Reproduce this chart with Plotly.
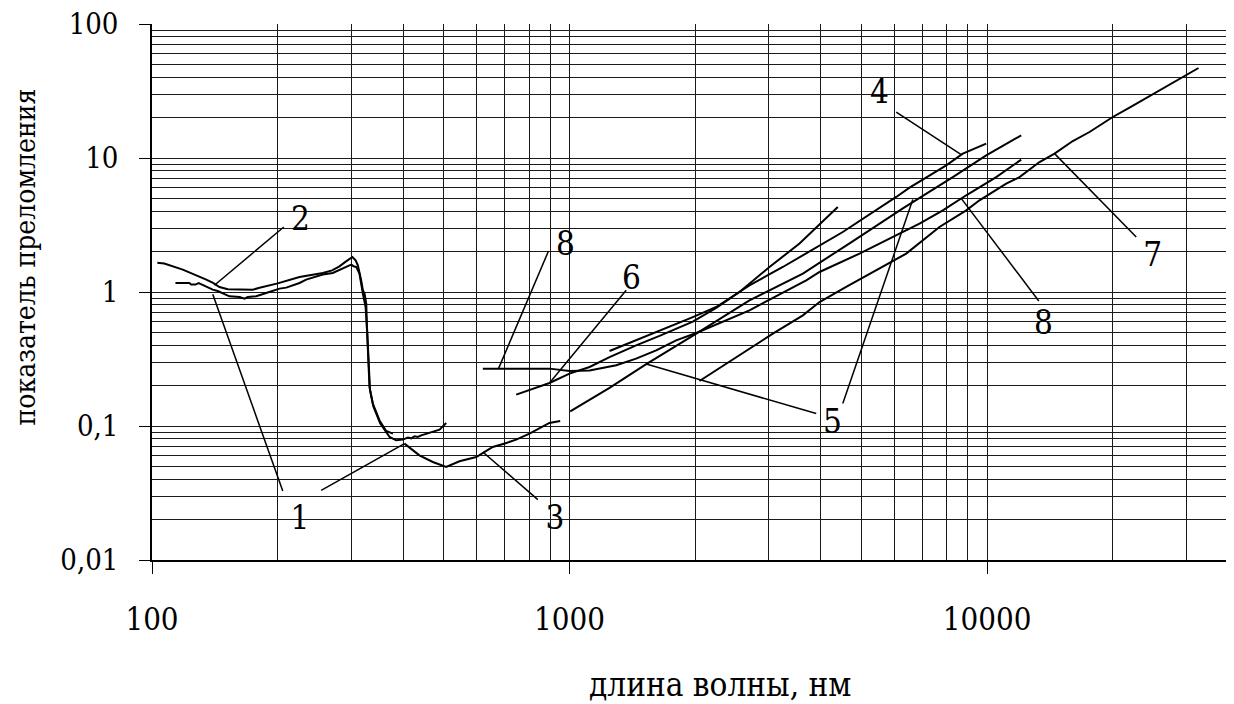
import plotly.graph_objects as go

# ---- data (wavelength nm, refractive index) ----
c1_x = [113.8, 122.9, 124.1, 127.1, 129.4, 133.6, 139.8, 143.7, 147.8, 153.3, 162.1, 166.6, 169.6, 177.7, 187.7, 198.4, 202.1, 209.7, 218, 225.6, 234, 245, 256.5, 271, 286.4, 297.2, 300.5, 304, 308.6, 314, 319.9, 324.8, 327.8, 329.8, 332.8, 339, 344.4, 352, 364, 370.7, 384.5, 398.8, 410, 417.7, 425.4, 433.2, 441.4, 453.8, 462.1, 475.1, 488.3, 506.6]
c1_y = [1.167, 1.167, 1.136, 1.136, 1.167, 1.109, 1.042, 1.017, 0.973, 0.929, 0.918, 0.893, 0.918, 0.929, 0.983, 1.03, 1.06, 1.078, 1.12, 1.167, 1.237, 1.29, 1.349, 1.386, 1.51, 1.58, 1.60, 1.556, 1.537, 1.372, 0.973, 0.773, 0.50, 0.31, 0.185, 0.14, 0.124, 0.105, 0.090, 0.0828, 0.0782, 0.0791, 0.0819, 0.0809, 0.0837, 0.0828, 0.0852, 0.0878, 0.0887, 0.0918, 0.094, 0.1053]

c2_x = [103, 107, 118.5, 125.3, 134.9, 140, 145.1, 151.9, 160, 174.4, 180, 187.7, 200, 225.6, 256.5, 270, 281.2, 290, 297.2, 302, 307.4, 311.2, 317, 320, 323, 326, 327.1, 328.9, 331.9, 338, 350.7, 363.9, 377.5]
c2_y = [1.65, 1.63, 1.47, 1.372, 1.237, 1.17, 1.09, 1.047, 1.04, 1.04, 1.07, 1.103, 1.16, 1.294, 1.386, 1.45, 1.555, 1.67, 1.775, 1.825, 1.724, 1.58, 1.22, 1.03, 0.97, 0.819, 0.548, 0.327, 0.195, 0.147, 0.110, 0.0918, 0.0878]

c3_x = [402.5, 437, 470.6, 506.6, 545, 598, 632, 655, 700, 745, 802, 850, 895, 950]
c3_y = [0.0739, 0.0604, 0.0539, 0.0494, 0.0545, 0.0587, 0.0651, 0.0697, 0.074, 0.0791, 0.0877, 0.097, 0.1053, 0.109]

c4_x = [1247, 1444, 1643, 1974, 2246, 2698, 3243, 4514, 6061, 6523, 7987, 8750, 9956]
c4_y = [0.363, 0.436, 0.518, 0.650, 0.773, 1.122, 1.537, 2.804, 5.12, 6.01, 8.82, 10.78, 12.81]

c5_x = [1004, 1247, 1527, 2012, 2698, 3622, 4686, 6286, 8282, 9956, 12077]
c5_y = [0.1287, 0.1928, 0.29, 0.489, 0.867, 1.372, 2.309, 4.213, 7.21, 10.47, 14.77]

c6_x = [745.3, 895.6, 1000, 1117, 1247, 1444, 1643, 1974, 2246, 2554, 3013, 3556, 4391]
c6_y = [0.1715, 0.2094, 0.246, 0.2756, 0.327, 0.40, 0.47, 0.60, 0.76, 1.0, 1.537, 2.30, 4.31]

c7_x = [2048, 2507, 3069, 3622, 3971, 4599, 5428, 6404, 7694, 8918, 9594, 11117, 11962, 13360, 14513, 16052, 17601, 20011, 21946, 24502, 27357, 29444, 32106]
c7_y = [0.2168, 0.327, 0.489, 0.670, 0.842, 1.09, 1.452, 1.934, 3.055, 4.07, 4.834, 6.44, 7.21, 9.33, 10.78, 13.39, 15.63, 20.23, 23.78, 29.01, 34.87, 40.23, 46.95]

c8_x = [620, 895.6, 1000, 1117, 1294, 1444, 1613, 1801, 2012, 2698, 3690, 3971, 4950, 5950, 6892, 7838, 8918, 10520, 12077]
c8_y = [0.268, 0.268, 0.257, 0.260, 0.284, 0.318, 0.367, 0.436, 0.494, 0.730, 1.223, 1.41, 1.934, 2.573, 3.238, 4.07, 5.27, 7.21, 9.72]

curves = [(c1_x, c1_y), (c2_x, c2_y), (c3_x, c3_y), (c4_x, c4_y),
          (c5_x, c5_y), (c6_x, c6_y), (c7_x, c7_y), (c8_x, c8_y)]

# leader lines (from label to curve), data units
leaders = [
    ([206.9, 141.1], [3.055, 1.122]),   # 2
    ([205.7, 139.8], [0.0327, 0.961]),  # 1
    ([254.2, 402.5], [0.0331, 0.0739]), # 1
    ([839.7, 620], [0.0282, 0.064]),    # 3
    ([890.6, 676], [2.023, 0.268]),     # 8
    ([1367, 895.6], [1.03, 0.2094]),    # 6
    ([3899, 1527], [0.1238, 0.29]),     # 5
    ([4514, 6642], [0.147, 4.9]),       # 5
    ([6061, 8674], [22.04, 10.6]),      # 4
    ([22776, 14513], [2.573, 10.78]),   # 7
    ([13305, 8674], [0.857, 5.0]),      # 8
]

label_text = ["2", "1", "3", "8", "6", "5", "4", "7", "8"]
label_x = [226.8, 226.2, 923.4, 978, 1408, 4266, 5527, 24950, 13650]
label_y = [3.37, 0.0198, 0.0198, 2.167, 1.223, 0.103, 29.4, 1.815, 0.564]

y_tickvals = [0.01, 0.1, 1, 10, 100]
y_ticktext = ["0,01", "0,1", "1", "10", "100"]
x_tickvals = [100, 1000, 10000]
x_ticktext = ["100", "1000", "10000"]

FONT = "DejaVu Serif Condensed, DejaVu Serif, serif"

fig = go.Figure()
for cx, cy in curves:
    fig.add_trace(go.Scatter(x=cx, y=cy, mode="lines",
                             line=dict(color="black", width=2),
                             hoverinfo="skip", showlegend=False))
for lx, ly in leaders:
    fig.add_trace(go.Scatter(x=lx, y=ly, mode="lines",
                             line=dict(color="black", width=1.5),
                             hoverinfo="skip", showlegend=False))
fig.add_trace(go.Scatter(x=label_x, y=label_y, text=label_text, mode="text",
                         textposition="middle center",
                         textfont=dict(family=FONT, size=33, color="black"),
                         hoverinfo="skip", showlegend=False))

grid_col = "#1a1a1a"
fig.update_xaxes(type="log", range=[2, 4.5916],
                 tickmode="array", tickvals=x_tickvals, ticktext=x_ticktext,
                 ticks="outside", ticklen=12, tickcolor="black", tickwidth=1,
                 showline=True, linecolor="black", linewidth=1.5,
                 showgrid=True, gridcolor=grid_col, gridwidth=1,
                 minor=dict(dtick="D1", showgrid=True, gridcolor=grid_col,
                            gridwidth=1, ticks=""),
                 tickfont=dict(family=FONT, size=31, color="black"),
                 ticklabelstandoff=19, ticklabeloverflow="allow",
                 zeroline=False)
fig.update_yaxes(type="log", range=[-2, 2],
                 tickmode="array", tickvals=y_tickvals, ticktext=y_ticktext,
                 ticks="outside", ticklen=11, tickcolor="black", tickwidth=1,
                 showline=True, linecolor="black", linewidth=1.5,
                 showgrid=True, gridcolor=grid_col, gridwidth=1,
                 minor=dict(dtick="D1", showgrid=True, gridcolor=grid_col,
                            gridwidth=1, ticks=""),
                 tickfont=dict(family=FONT, size=29, color="black"),
                 ticklabelstandoff=15, ticklabeloverflow="allow",
                 zeroline=False)

# the page body has an 8px margin; size and margins compensate for it
fig.update_layout(
    width=1226, height=696,
    margin=dict(l=144, r=0, t=16, b=144),
    plot_bgcolor="white", paper_bgcolor="white",
    font=dict(family=FONT, color="black"),
    showlegend=False,
    annotations=[
        dict(text="длина волны, нм", xref="paper", yref="paper",
             x=0.525, y=-0.232, xanchor="center", yanchor="middle",
             showarrow=False, font=dict(family=FONT, size=33, color="black")),
        dict(text="показатель преломления", xref="paper", yref="paper",
             x=-0.117, y=0.565, xanchor="center", yanchor="middle",
             textangle=-90, showarrow=False,
             font=dict(family=FONT, size=28, color="black")),
    ],
)

fig.write_html("out.html")
